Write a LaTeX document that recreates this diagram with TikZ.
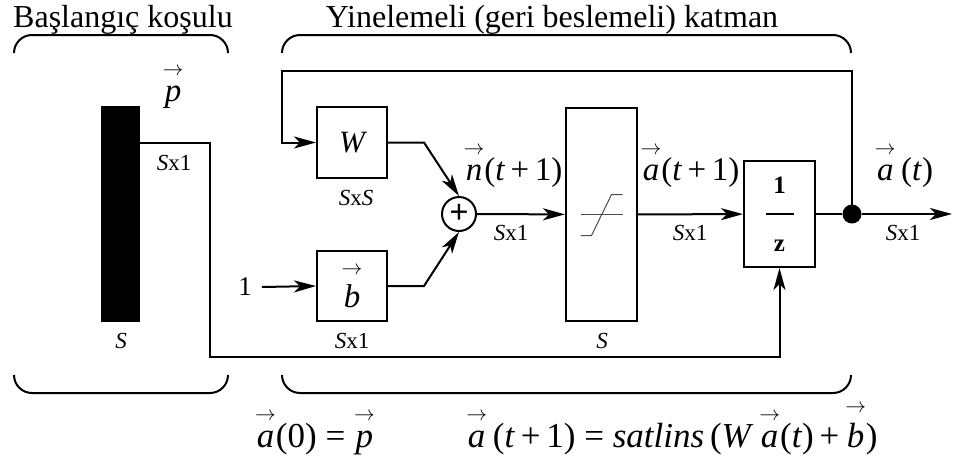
\documentclass[tikz,border=0pt]{standalone}
\usepackage{amsmath}
\usepackage{fontspec}
\setmainfont{Liberation Serif}
\usetikzlibrary{arrows.meta, positioning, calc}
\newcommand\vv[1]{\ensuremath{\overset{\raisebox{5pt}{\fontsize{20}{20}\selectfont$\rightarrow$}}{\textit{#1}}}}
\tikzset{
  blk/.style    = {rectangle, draw, line width=2pt, inner sep=0pt},
  arrow/.style  = {-{Stealth[length=22pt, width=12pt, inset=6pt]}, line width=2pt},
  wire/.style   = {line width=2pt},
  brace/.style  = {line width=2pt, rounded corners=18pt},
  title/.style  = {font=\fontsize{32}{36}\selectfont, anchor=base, inner sep=0pt},
  sig/.style    = {font=\fontsize{33}{38}\selectfont, anchor=base, inner sep=0pt},
  eqn/.style    = {font=\fontsize{35}{38}\selectfont, anchor=base, inner sep=0pt},
  dimlbl/.style = {font=\fontsize{23}{26}\selectfont, anchor=base, inner sep=0pt},
  tfline/.style = {black!70, line width=1pt},
}
\begin{document}
\begin{tikzpicture}[x=1pt, y=-1pt]
  \useasboundingbox (0,0) rectangle (955,461);

  % ---- titles and braces ----
  \node[title] (tinit) at (123,27) {Başlangıç koşulu};
  \node[title] (trec)  at (552,27) {Yinelemeli (geri beslemeli) katman};
  \draw[brace] (14,53) |- (121,35) -| (228,53);
  \draw[brace] (282,53) |- (566,35) -| (851,53);
  \draw[brace] (14,375) |- (121,393) -| (228,375);
  \draw[brace] (282,375) |- (566,393) -| (851,375);

  % ---- blocks ----
  \node[blk, fill=black, minimum width=37pt, minimum height=214pt] (bar) at (120.5,214) {};
  \node[blk, minimum width=70pt, minimum height=71pt,
        font=\fontsize{31}{36}\selectfont\itshape] (W) at (352,142.5) {W};
  \node[blk, minimum width=70pt, minimum height=70pt,
        font=\fontsize{33}{38}\selectfont] (b) at (352,286) {\vv{b}};
  \node[circle, draw, line width=2pt, minimum size=34pt, inner sep=0pt,
        font=\fontsize{34}{36}\selectfont\bfseries] (sum) at (459,214) {+};
  \node[blk, minimum width=71pt, minimum height=213pt] (sat) at (601.5,214.5) {};
  \node[blk, minimum width=71pt, minimum height=106pt, align=center,
        font=\fontsize{25}{29}\selectfont\bfseries] (dly) at (779.5,214)
        {1\\\rule[0.3em]{28pt}{1.6pt}\\z};
  \node[circle, fill=black, minimum size=19pt, inner sep=0pt] (dot) at (852,214) {};
  \node[font=\fontsize{27}{30}\selectfont, inner sep=10pt] (one) at (245,287) {1};
  \coordinate (out)   at (952,214);
  \coordinate (fb)    at (282,71);
  \coordinate (pturn) at (210,357);

  % transfer function sign
  \draw[tfline] ($(sat.center)+(-21,0)$) -- ++(42,0);
  \draw[tfline] ($(sat.center)+(-21,21)$) -- ++(11,0) -- ++(20,-41) -- ++(11,0);

  % ---- connectors ----
  \draw[arrow] (bar.east |- W.west) -| (pturn) -| (dly.south);
  \draw[arrow] (dot.center) |- (fb) |- (W.west);
  \draw[arrow] (one.east) -- (b.west);
  \draw[arrow] (W.east) -- ++(36,0) -- (sum.north);
  \draw[arrow] (b.east) -- ++(36,0) -- (sum.south);
  \draw[arrow] (sum) -- (sat);
  \draw[arrow] (sat) -- (dly);
  \draw[wire]  (dly) -- (dot);
  \draw[arrow] (dot) -- (out);

  % ---- labels ----
  \node[sig] (lp)   at (173,101) {\vv{p}};
  \node[sig] (ln)   at (513,180) {\vv{n}(\textit{t}\,+\,1)};
  \node[sig] (la1)  at (690,180) {\vv{a}(\textit{t}\,+\,1)};
  \node[sig] (lat)  at (904,180) {\vv{a}\,(\textit{t})};
  \node[dimlbl] (dp)   at (174,170) {\textit{S}x1};
  \node[dimlbl] (dbar) at (121,348) {\textit{S}};
  \node[dimlbl] (dW)   at (356,205) {\textit{S}x\textit{S}};
  \node[dimlbl] (db)   at (352,348) {\textit{S}x1};
  \node[dimlbl] (dn)   at (511,240) {\textit{S}x1};
  \node[dimlbl] (dsat) at (602,348) {\textit{S}};
  \node[dimlbl] (da1)  at (690,240) {\textit{S}x1};
  \node[dimlbl] (dat)  at (903,240) {\textit{S}x1};

  % ---- equations ----
  \node[eqn] (einit) at (315,447) {\vv{a}(0) = \vv{p}};
  \node[eqn] (erec)  at (672,447)
        {\vv{a}\,(\textit{t}\,+\,1) = \textit{satlins}\,(\textit{W}\,\vv{a}(\textit{t})\,+\,\vv{b})};
\end{tikzpicture}
\end{document}
